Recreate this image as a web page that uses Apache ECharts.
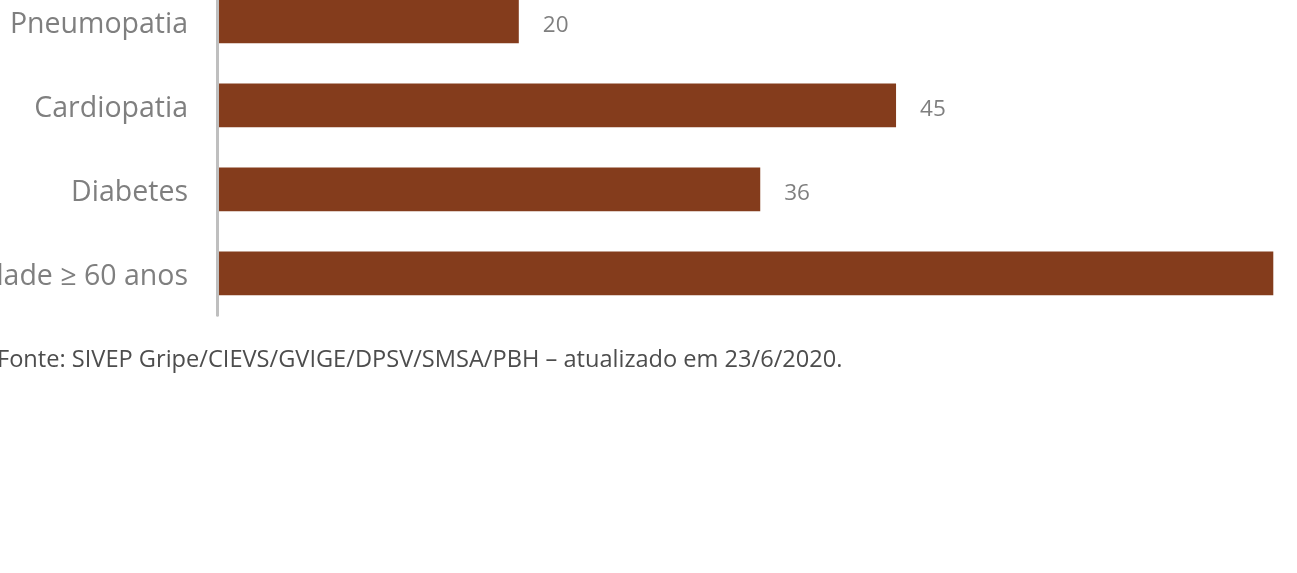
<!DOCTYPE html>
<html>
<head>
<meta charset="utf-8">
<script src="https://cdn.jsdelivr.net/npm/echarts@6/dist/echarts.min.js"></script>
<style>html,body{margin:0;padding:0;background:#fff}#c{width:1297px;height:573px}</style>
</head>
<body>
<div id="c"></div>
<script>
const categories = ['Idade ≥ 60 anos', 'Diabetes', 'Cardiopatia', 'Pneumopatia'];
const values = [70, 36, 45, 20];
const sourceNote = 'Fonte: SIVEP Gripe/CIEVS/GVIGE/DPSV/SMSA/PBH – atualizado em 23/6/2020.';

const chart = echarts.init(document.getElementById('c'), null, {renderer: 'canvas'});
chart.setOption({
  animation: false,
  backgroundColor: '#ffffff',
  grid: {left: 217, top: -20.7, height: 336, width: 1207.2, containLabel: false, outerBoundsMode: 'none'},
  xAxis: {
    type: 'value', min: 0, max: 80, show: false
  },
  yAxis: {
    type: 'category', data: categories, offset: 2, z: 10,
    axisLine: {show: true, lineStyle: {color: '#bfbfbf', width: 3}},
    axisTick: {show: false},
    axisLabel: {
      margin: 27,
      formatter: '{a|{value}}',
      rich: {a: {color: '#7f7f7f', fontFamily: 'Open Sans', fontSize: 28.5, padding: [8, 0, 0, 0]}}
    }
  },
  series: [{
    type: 'bar', data: values, barWidth: '52%',
    itemStyle: {color: '#843C1C'},
    label: {show: true, position: 'right', distance: 24, offset: [0, 4], color: '#7f7f7f', fontFamily: 'Open Sans', fontSize: 22.5}
  }],
  graphic: [{
    type: 'text', x: -3, y: 360,
    style: {text: sourceNote, fill: '#4d4d4d', font: '23.6px "Open Sans"', textVerticalAlign: 'middle'}
  }]
});
</script>
</body>
</html>
